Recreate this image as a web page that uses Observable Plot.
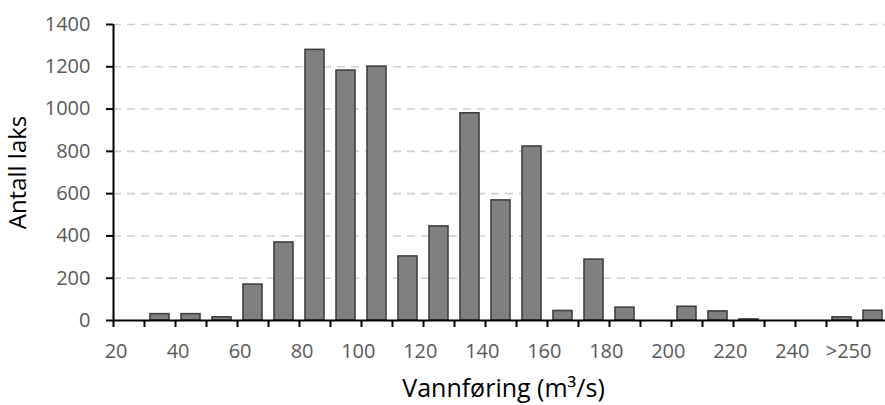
<!DOCTYPE html>
<html>
<head>
<meta charset="utf-8">
<script src="https://cdn.jsdelivr.net/npm/d3@7"></script>
<script src="https://cdn.jsdelivr.net/npm/@observablehq/plot@0.6"></script>
<style>
  html, body { margin: 0; padding: 0; background: #fff; }
</style>
</head>
<body>
<div id="chart"></div>
<script>
// Bins of discharge (m3/s), lower edge of each 10-unit bin; last bin is ">250" overflow
const binStart = [20,30,40,50,60,70,80,90,100,110,120,130,140,150,160,170,180,190,200,210,220,230,240,250,260];
const counts   = [0,30,30,15,170,369,1280,1182,1201,303,445,980,568,823,45,288,61,0,65,43,5,0,0,15,46];
const binEdges = [20,30,40,50,60,70,80,90,100,110,120,130,140,150,160,170,180,190,200,210,220,230,240,250,260];
const xLabelPos  = [20,40,60,80,100,120,140,160,180,200,220,240,260];
const xLabelText = ["20","40","60","80","100","120","140","160","180","200","220","240",">250"];
const yTicks = [0,200,400,600,800,1000,1200,1400];
const yGrid = [200,400,600,800,1000,1200,1400];

const data = binStart.map((lo, i) => ({lo, hi: lo + 10, count: counts[i]})).filter(d => d.count > 0);
const labels = xLabelPos.map((v, i) => ({v, t: xLabelText[i]}));

const chart = Plot.plot({
  width: 885,
  height: 405,
  marginLeft: 113,
  marginRight: 0,
  marginTop: 24,
  marginBottom: 85,
  style: {fontFamily: "'Open Sans', Lato, sans-serif", fontSize: "20px", background: "#fff"},
  x: {domain: [20, 270], range: [113, 888], axis: null},
  y: {domain: [0, 1400], range: [320, 24], axis: null},
  marks: [
    Plot.ruleY(yGrid, {stroke: "#d0d0d0", strokeWidth: 1.6, strokeDasharray: "8,6"}),
    Plot.rectY(data, {x1: "lo", x2: "hi", y: "count", insetLeft: 6, insetRight: 6,
      fill: "#808080", stroke: "#404040", strokeWidth: 1.6}),
    Plot.ruleY([0], {stroke: "#000", strokeWidth: 2}),
    Plot.ruleX([20], {y1: 0, y2: 1400, stroke: "#000", strokeWidth: 2}),
    Plot.axisX({ticks: binEdges, tickSize: 7, tickFormat: () => "", stroke: "#000", strokeWidth: 2}),
    Plot.axisY({ticks: yTicks, tickSize: 7, tickPadding: 16, tickFormat: d => String(d),
      stroke: "#000", strokeWidth: 2, fill: "#595959", fontSize: 20, label: null}),
    Plot.text(labels, {x: "v", y: () => 0, text: "t", textAnchor: "end", dx: 14, dy: 31,
      lineAnchor: "middle", fill: "#595959", fontSize: 20}),
    Plot.text(["Antall laks"], {frameAnchor: "left", dx: -95, rotate: -90, fill: "#000",
      fontSize: 24, textAnchor: "middle", lineAnchor: "middle"}),
    Plot.text(["Vannføring (m³/s)"], {frameAnchor: "bottom", dx: 4, dy: 68, fill: "#000",
      fontSize: 25, textAnchor: "middle", lineAnchor: "middle"})
  ]
});
document.getElementById("chart").appendChild(chart);
</script>
</body>
</html>
